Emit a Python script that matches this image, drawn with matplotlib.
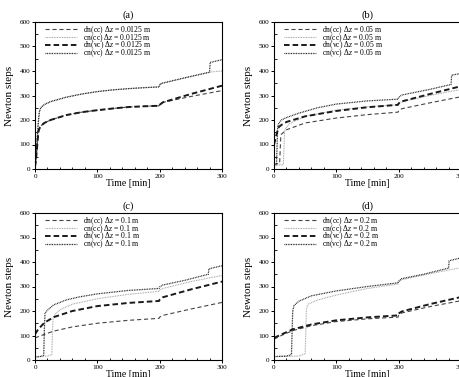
import numpy as np
import matplotlib
matplotlib.use("Agg")
from matplotlib import pyplot as plt
from matplotlib.ticker import MultipleLocator

plt.rcParams['font.family'] = ['Liberation Serif', 'DejaVu Serif']
plt.rcParams['mathtext.fontset'] = 'custom'
plt.rcParams['mathtext.rm'] = 'Liberation Serif'
plt.rcParams['mathtext.it'] = 'Liberation Serif:italic'
plt.rcParams['lines.scale_dashes'] = False

# -------------------------------
# Data
# -------------------------------
# (a) dz = 0.0125 m
ta_cn = [0, 1, 2, 3, 4, 5, 6, 7, 8, 10, 15, 25, 50, 75, 100, 125, 150, 175, 199, 200, 201, 240, 280, 281, 300]
a_cn_cc = [8, 30, 60, 100, 140, 180, 210, 232, 243, 252, 263, 275, 293, 306, 316, 323, 328, 332, 335, 340, 348, 372, 395, 396, 400]
a_cn_vc = [8, 30, 60, 100, 140, 180, 210, 232, 243, 252, 263, 275, 293, 306, 316, 323, 328, 332, 335, 340, 348, 372, 395, 435, 446]
ta_dn = [0, 1, 2, 3, 4, 5, 6, 8, 10, 15, 25, 50, 75, 100, 125, 150, 175, 199, 200, 205, 250, 300]
a_dn_cc = [10, 25, 50, 80, 110, 140, 158, 170, 177, 188, 200, 220, 232, 240, 247, 253, 256, 258, 262, 272, 296, 320]
a_dn_vc = [10, 25, 50, 80, 110, 140, 158, 170, 177, 188, 200, 220, 232, 240, 247, 253, 256, 258, 262, 272, 306, 340]

# (b) dz = 0.05 m
tb_dn_cc = [0, 9, 10, 11, 20, 50, 100, 150, 199, 200, 205, 250, 300]
b_dn_cc = [20, 22, 80, 140, 160, 188, 208, 222, 232, 238, 246, 270, 295]
tb_cn_cc = [0, 15, 16, 17, 20, 25, 50, 100, 150, 199, 200, 205, 250, 300]
b_cn_cc = [15, 18, 90, 155, 170, 185, 215, 240, 254, 262, 268, 274, 300, 325]
tb_dn_vc = [0, 3, 6, 8, 12, 20, 50, 100, 150, 199, 200, 205, 250, 300]
b_dn_vc = [100, 130, 160, 172, 180, 192, 215, 237, 252, 262, 268, 276, 306, 338]
tb_cn_vc = [0, 4, 5, 6, 8, 12, 20, 40, 70, 100, 150, 199, 200, 205, 250, 284, 285, 300]
b_cn_vc = [15, 18, 100, 175, 188, 200, 210, 228, 250, 265, 278, 285, 292, 302, 325, 345, 383, 390]

# (c) dz = 0.1 m
tc_dn_cc = [0, 10, 30, 60, 100, 150, 199, 200, 205, 250, 300]
c_dn_cc = [90, 100, 118, 135, 150, 162, 170, 175, 182, 208, 235]
tc_dn_vc = [0, 5, 15, 30, 60, 100, 150, 199, 200, 205, 250, 300]
c_dn_vc = [105, 125, 152, 175, 200, 220, 233, 241, 246, 256, 288, 320]
tc_cn_vc = [0, 10, 14, 15, 16, 18, 22, 30, 50, 70, 100, 150, 199, 200, 205, 240, 278, 279, 300]
c_cn_vc = [12, 15, 20, 120, 190, 198, 208, 225, 245, 257, 270, 284, 292, 298, 306, 325, 350, 372, 385]
tc_cn_cc = [0, 20, 27, 28, 29, 32, 40, 60, 100, 150, 199, 200, 205, 250, 300]
c_cn_cc = [12, 16, 22, 110, 172, 185, 205, 228, 250, 268, 280, 285, 292, 320, 345]

# (d) dz = 0.2 m
td_cn_vc = [0, 20, 28, 29, 30, 32, 40, 60, 100, 150, 199, 200, 205, 240, 280, 281, 300]
d_cn_vc = [14, 16, 22, 110, 200, 222, 240, 262, 282, 300, 315, 322, 332, 350, 375, 405, 417]
td_cn_cc = [0, 40, 50, 51, 52, 55, 70, 100, 150, 199, 200, 205, 250, 300]
d_cn_cc = [14, 16, 25, 110, 210, 228, 245, 265, 292, 310, 318, 328, 352, 377]
td_dn = [0, 10, 30, 60, 100, 150, 199, 200, 205, 250, 300]
d_dn_cc = [85, 98, 120, 140, 157, 168, 175, 182, 192, 218, 242]
d_dn_vc = [90, 102, 125, 145, 162, 174, 182, 190, 198, 228, 257]

panels = [
    ("(a)", "0.0125", [(ta_dn, a_dn_cc), (ta_cn, a_cn_cc), (ta_dn, a_dn_vc), (ta_cn, a_cn_vc)]),
    ("(b)", "0.05", [(tb_dn_cc, b_dn_cc), (tb_cn_cc, b_cn_cc), (tb_dn_vc, b_dn_vc), (tb_cn_vc, b_cn_vc)]),
    ("(c)", "0.1", [(tc_dn_cc, c_dn_cc), (tc_cn_cc, c_cn_cc), (tc_dn_vc, c_dn_vc), (tc_cn_vc, c_cn_vc)]),
    ("(d)", "0.2", [(td_dn, d_dn_cc), (td_cn_cc, d_cn_cc), (td_dn, d_dn_vc), (td_cn_vc, d_cn_vc)]),
]
names = ["dn(cc)", "cn(cc)", "dn(vc)", "cn(vc)"]
styles = [
    dict(color='#444444', lw=0.8, ls=(0, (3.0, 2.0))),
    dict(color='#a0a0a0', lw=0.8, ls=(0, (0.6, 0.6))),
    dict(color='#1a1a1a', lw=1.4, ls=(0, (4.0, 2.2))),
    dict(color='#111111', lw=0.9, ls=(0, (0.6, 0.6))),
]

# axes positions in figure fractions (figure is cropped on right/bottom)
W, H = 459, 377
boxes = [(35, 22), (274, 22), (35, 213), (274, 213)]
aw, ah = 187, 147

fig = plt.figure(figsize=(W / 100, H / 100), dpi=100)
for (title, dz, series), (x0, y0) in zip(panels, boxes):
    ax = fig.add_axes([x0 / W, 1 - (y0 + ah) / H, aw / W, ah / H])
    for (t, v), nm, st in zip(series, names, styles):
        ax.plot(t, v, label=r"%s $\Delta z$ = %s m" % (nm, dz), **st)
    ax.set_xlim(0, 300)
    ax.set_ylim(0, 600)
    ax.xaxis.set_major_locator(MultipleLocator(100))
    ax.xaxis.set_minor_locator(MultipleLocator(20))
    ax.yaxis.set_major_locator(MultipleLocator(100))
    ax.yaxis.set_minor_locator(MultipleLocator(50))
    ax.tick_params(which='major', direction='out', length=2.5, width=0.7, labelsize=5.2, pad=1)
    ax.tick_params(which='minor', direction='in', length=1.8, width=0.6)
    for s in ax.spines.values():
        s.set_linewidth(0.8)
    ax.set_title(title, fontsize=7.5, pad=3)
    ax.set_xlabel("Time [min]", fontsize=7, labelpad=0)
    ax.set_ylabel("Newton steps", fontsize=8, labelpad=4)
    ax.legend(loc='upper left', frameon=False, fontsize=5.5, handlelength=4.15,
              handletextpad=0.8, labelspacing=-0.5, borderaxespad=0, borderpad=0,
              bbox_to_anchor=(0.053, 0.985))

fig.savefig("out.png", dpi=100)
